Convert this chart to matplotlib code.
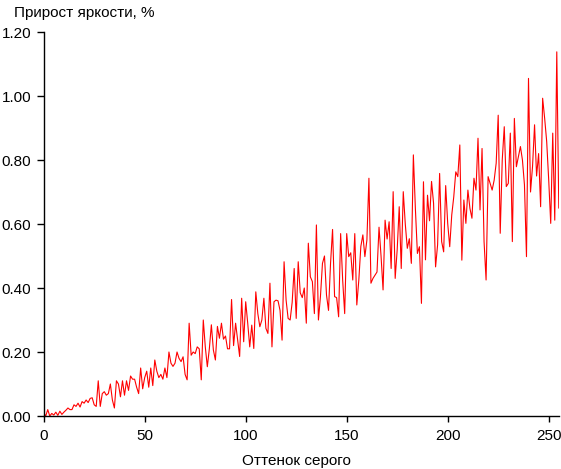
import numpy as np
import matplotlib
matplotlib.use("Agg")
import matplotlib.pyplot as plt
from matplotlib.ticker import FormatStrFormatter

# прирост яркости для каждого оттенка серого (0..255)
gain = [
    0.010, 0.000, 0.020, 0.000, 0.008, 0.003, 0.012, 0.002, 0.015, 0.005,
    0.012, 0.018, 0.025, 0.020, 0.020, 0.035, 0.030, 0.040, 0.028, 0.045,
    0.040, 0.050, 0.042, 0.055, 0.057, 0.035, 0.030, 0.110, 0.030, 0.070,
    0.076, 0.065, 0.070, 0.100, 0.050, 0.025, 0.110, 0.100, 0.060, 0.110,
    0.065, 0.110, 0.080, 0.125, 0.115, 0.115, 0.090, 0.070, 0.150, 0.085,
    0.120, 0.140, 0.090, 0.150, 0.095, 0.175, 0.140, 0.120, 0.130, 0.115,
    0.150, 0.120, 0.200, 0.165, 0.155, 0.165, 0.200, 0.180, 0.170, 0.185,
    0.130, 0.113, 0.290, 0.190, 0.200, 0.195, 0.216, 0.210, 0.113, 0.300,
    0.216, 0.154, 0.210, 0.285, 0.206, 0.175, 0.280, 0.243, 0.290, 0.240,
    0.250, 0.210, 0.210, 0.364, 0.220, 0.290, 0.237, 0.186, 0.368, 0.232,
    0.357, 0.290, 0.216, 0.284, 0.211, 0.388, 0.320, 0.279, 0.300, 0.368,
    0.274, 0.258, 0.415, 0.216, 0.357, 0.362, 0.360, 0.330, 0.237, 0.482,
    0.362, 0.305, 0.300, 0.355, 0.461, 0.305, 0.482, 0.385, 0.370, 0.400,
    0.290, 0.540, 0.435, 0.420, 0.320, 0.597, 0.300, 0.373, 0.477, 0.500,
    0.378, 0.330, 0.477, 0.583, 0.373, 0.370, 0.310, 0.570, 0.425, 0.320,
    0.570, 0.498, 0.510, 0.425, 0.570, 0.347, 0.425, 0.530, 0.566, 0.498,
    0.550, 0.743, 0.415, 0.430, 0.440, 0.450, 0.590, 0.500, 0.394, 0.612,
    0.553, 0.607, 0.461, 0.701, 0.430, 0.520, 0.654, 0.461, 0.701, 0.600,
    0.524, 0.554, 0.477, 0.816, 0.648, 0.508, 0.529, 0.352, 0.732, 0.488,
    0.690, 0.610, 0.733, 0.665, 0.466, 0.535, 0.758, 0.545, 0.513, 0.720,
    0.602, 0.529, 0.628, 0.685, 0.763, 0.748, 0.847, 0.487, 0.675, 0.602,
    0.706, 0.649, 0.618, 0.743, 0.706, 0.868, 0.644, 0.836, 0.545, 0.425,
    0.748, 0.727, 0.706, 0.737, 0.790, 0.940, 0.571, 0.800, 0.904, 0.717,
    0.727, 0.884, 0.545, 0.930, 0.779, 0.810, 0.842, 0.800, 0.722, 0.498,
    1.055, 0.700, 0.780, 0.910, 0.750, 0.820, 0.654, 0.993, 0.930, 0.858,
    0.738, 0.602, 0.884, 0.612, 1.138, 0.650,
]
shade = np.arange(len(gain))

x_ticks = [0, 50, 100, 150, 200, 250]
y_ticks = [0.0, 0.2, 0.4, 0.6, 0.8, 1.0, 1.2]

plt.rcParams['font.family'] = ['Liberation Sans', 'DejaVu Sans']
plt.rcParams['font.size'] = 11

fig = plt.figure(figsize=(5.61, 4.69), dpi=100)
ax = fig.add_axes([43.7 / 561, 53 / 469, (558.8 - 43.7) / 561, 384 / 469])

ax.plot(shade, gain, color='#ff0000', linewidth=0.8)

ax.set_xlim(0, 255)
ax.set_ylim(0, 1.2)
ax.set_xticks(x_ticks)
ax.set_yticks(y_ticks)
ax.yaxis.set_major_formatter(FormatStrFormatter('%.2f'))
ax.tick_params(axis='y', direction='out', length=5, width=1, pad=4)
ax.tick_params(axis='x', direction='out', length=4, width=1, pad=5)

for s in ['top', 'right']:
    ax.spines[s].set_visible(False)
for s in ['left', 'bottom']:
    ax.spines[s].set_linewidth(1)
    ax.spines[s].set_color('black')

fig.text(14 / 561, 1 - 13 / 469, 'Прирост яркости, %', ha='left', va='center')
fig.text(296 / 561, 1 - 461 / 469, 'Оттенок серого', ha='center', va='center')

fig.savefig('out.png', dpi=100)
